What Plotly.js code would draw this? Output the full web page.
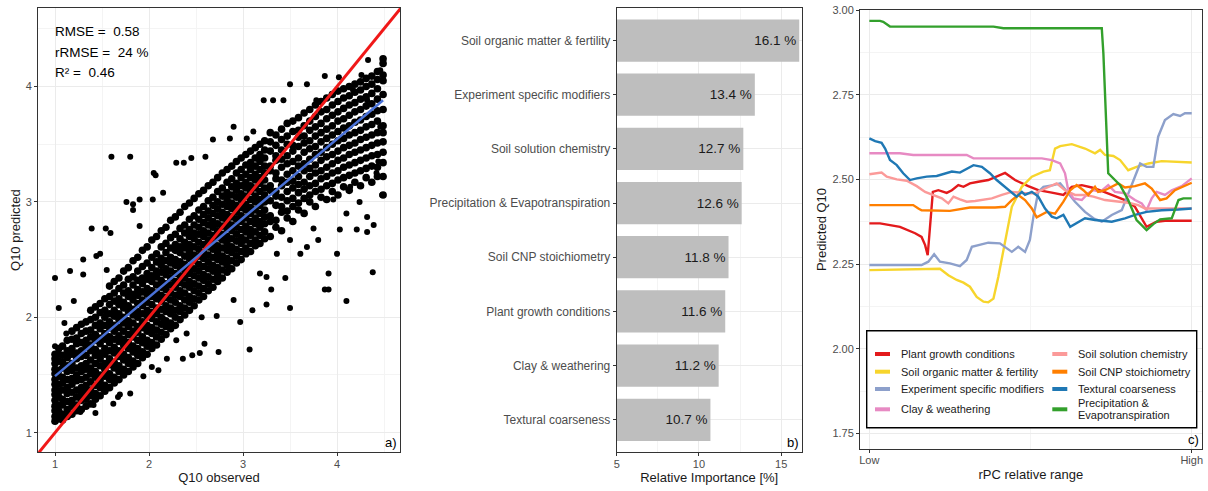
<!DOCTYPE html>
<html><head><meta charset="utf-8">
<script src="https://cdn.plot.ly/plotly-3.0.1.min.js"></script>
<style>html,body{margin:0;padding:0;background:#fff;}#chart{width:1208px;height:491px;}</style>
</head><body><div id="chart"></div>
<script>
// ---------- Panel a: observed vs predicted Q10 ----------
const coreColX = [1.00,1.04,1.08,1.13,1.18,1.23,1.28,1.33,1.38,1.43,1.48,1.53,1.58,1.63,1.68,1.73,1.78,1.83,1.88,1.93,1.98,2.03,2.08,2.13,2.18,2.23,2.28,2.33,2.38,2.43,2.48,2.53,2.58,2.63,2.68,2.73,2.78,2.83,2.88,2.93,2.98,3.03,3.08,3.13,3.18,3.23,3.29,3.35,3.41,3.47,3.53,3.59,3.65,3.71,3.77,3.83,3.89,3.95,4.01,4.07,4.13,4.19,4.25,4.31,4.37,4.43,4.49];
const coreColY = [
[1.10,1.14,1.19,1.23,1.28,1.33,1.37,1.42,1.46,1.51,1.55,1.60,1.64,1.68],
[1.12,1.19,1.24,1.31,1.36,1.42,1.49,1.54,1.62,1.68,1.73],
[1.11,1.16,1.24,1.29,1.37,1.43,1.48,1.56,1.61,1.67,1.75],
[1.14,1.20,1.27,1.34,1.39,1.46,1.53,1.58,1.65,1.71,1.80],
[1.16,1.23,1.28,1.35,1.42,1.47,1.54,1.60,1.68,1.73,1.81,1.88],
[1.19,1.24,1.31,1.37,1.45,1.50,1.56,1.64,1.69,1.77,1.82,1.91],
[1.20,1.28,1.33,1.39,1.46,1.53,1.58,1.66,1.71,1.78,1.86,1.94],
[1.23,1.29,1.36,1.41,1.48,1.55,1.60,1.67,1.75,1.80,1.88,1.96],
[1.25,1.32,1.37,1.44,1.51,1.56,1.63,1.71,1.76,1.83,1.89,1.98,2.06],
[1.29,1.34,1.41,1.48,1.53,1.60,1.67,1.72,1.80,1.85,1.93,2.00,2.09],
[1.32,1.39,1.45,1.50,1.58,1.64,1.69,1.77,1.82,1.90,1.95,2.04,2.12],
[1.36,1.41,1.49,1.55,1.60,1.68,1.73,1.81,1.86,1.93,2.00,2.06,2.16],
[1.39,1.46,1.51,1.59,1.64,1.71,1.78,1.83,1.91,1.96,2.03,2.11,2.18,2.27],
[1.43,1.48,1.56,1.61,1.69,1.74,1.81,1.88,1.93,2.01,2.06,2.14,2.21,2.31],
[1.46,1.53,1.58,1.66,1.71,1.79,1.84,1.91,1.98,2.03,2.11,2.16,2.25,2.34],
[1.50,1.55,1.63,1.68,1.76,1.81,1.88,1.95,2.00,2.08,2.13,2.21,2.28,2.40],
[1.53,1.60,1.65,1.73,1.78,1.85,1.92,1.97,2.05,2.10,2.18,2.23,2.33,2.43],
[1.57,1.62,1.70,1.75,1.83,1.88,1.95,2.02,2.07,2.15,2.20,2.28,2.35,2.49],
[1.60,1.67,1.73,1.80,1.87,1.92,2.00,2.05,2.12,2.19,2.24,2.32,2.40,2.52],
[1.65,1.70,1.78,1.83,1.91,1.96,2.03,2.10,2.15,2.22,2.29,2.34,2.44,2.58],
[1.68,1.75,1.80,1.88,1.93,2.01,2.06,2.13,2.20,2.25,2.33,2.38,2.47,2.61],
[1.73,1.78,1.86,1.91,1.99,2.04,2.11,2.18,2.23,2.31,2.36,2.43,2.52,2.67],
[1.76,1.83,1.89,1.96,2.03,2.08,2.16,2.21,2.28,2.35,2.40,2.48,2.55,2.70],
[1.81,1.87,1.94,2.00,2.07,2.14,2.19,2.26,2.32,2.39,2.45,2.51,2.61,2.75],
[1.85,1.92,1.97,2.05,2.10,2.17,2.24,2.29,2.37,2.42,2.49,2.56,2.64,2.78],
[1.90,1.95,2.03,2.08,2.15,2.21,2.28,2.34,2.40,2.47,2.52,2.60,2.69,2.84],
[1.93,2.00,2.06,2.13,2.19,2.26,2.31,2.38,2.45,2.50,2.58,2.63,2.72,2.87],
[1.98,2.05,2.10,2.18,2.23,2.30,2.36,2.43,2.48,2.56,2.61,2.68,2.77,2.91],
[2.02,2.08,2.15,2.21,2.28,2.34,2.41,2.46,2.53,2.60,2.65,2.73,2.80,2.96],
[2.06,2.13,2.18,2.26,2.31,2.38,2.44,2.51,2.57,2.63,2.70,2.76,2.85,2.99],
[2.10,2.16,2.23,2.29,2.36,2.42,2.49,2.54,2.61,2.68,2.73,2.80,2.88,3.03],
[2.15,2.21,2.27,2.34,2.40,2.46,2.53,2.59,2.65,2.72,2.78,2.85,2.93,3.07],
[2.18,2.25,2.32,2.37,2.44,2.51,2.56,2.63,2.70,2.75,2.82,2.89,2.96,3.10],
[2.23,2.29,2.35,2.42,2.48,2.54,2.61,2.67,2.73,2.80,2.86,2.92,3.01,3.14],
[2.26,2.33,2.40,2.45,2.52,2.59,2.64,2.71,2.78,2.83,2.90,2.97,3.04,3.17],
[2.31,2.37,2.43,2.50,2.56,2.62,2.69,2.75,2.81,2.88,2.94,3.00,3.09,3.21],
[2.34,2.41,2.48,2.53,2.60,2.67,2.72,2.79,2.86,2.91,2.98,3.05,3.12,3.25],
[2.39,2.45,2.51,2.58,2.64,2.70,2.77,2.83,2.89,2.96,3.02,3.08,3.17,3.28],
[2.42,2.49,2.56,2.61,2.68,2.75,2.80,2.87,2.94,2.99,3.06,3.13,3.20,3.31],
[2.47,2.53,2.59,2.66,2.72,2.78,2.85,2.91,2.97,3.04,3.10,3.16,3.25,3.35],
[2.50,2.57,2.64,2.69,2.76,2.83,2.88,2.95,3.02,3.07,3.14,3.21,3.28,3.38],
[2.55,2.60,2.67,2.74,2.79,2.86,2.93,2.98,3.05,3.12,3.17,3.24,3.32,3.41],
[2.57,2.64,2.71,2.76,2.83,2.90,2.95,3.02,3.09,3.14,3.21,3.28,3.34,3.44],
[2.62,2.67,2.74,2.81,2.86,2.93,3.00,3.05,3.12,3.19,3.24,3.31,3.38,3.47],
[2.64,2.71,2.78,2.83,2.90,2.97,3.02,3.09,3.16,3.21,3.28,3.35,3.41,3.50],
[2.68,2.74,2.81,2.87,2.93,3.00,3.06,3.12,3.19,3.25,3.31,3.38,3.45,3.53],
[2.70,2.83,2.88,3.01,3.10,3.14,3.27,3.31,3.44,3.52,3.60],
[2.78,2.84,2.97,3.05,3.09,3.20,3.25,3.36,3.40,3.49,3.58],
[2.75,2.91,2.96,3.04,3.14,3.19,3.30,3.37,3.45,3.54,3.63],
[2.86,2.92,3.01,3.09,3.17,3.24,3.33,3.40,3.50,3.57,3.68],
[2.83,2.96,3.03,3.12,3.18,3.27,3.35,3.44,3.49,3.61,3.70],
[2.93,2.99,3.08,3.15,3.22,3.31,3.38,3.48,3.56,3.62,3.73],
[2.90,3.03,3.11,3.17,3.27,3.33,3.43,3.51,3.57,3.66,3.77],
[3.00,3.06,3.14,3.22,3.29,3.37,3.46,3.53,3.62,3.70,3.80],
[2.96,3.09,3.16,3.25,3.32,3.41,3.48,3.57,3.65,3.74,3.84],
[3.04,3.11,3.20,3.27,3.36,3.43,3.52,3.60,3.68,3.78,3.87],
[3.02,3.14,3.22,3.30,3.39,3.47,3.55,3.63,3.72,3.80,3.90],
[3.09,3.16,3.25,3.33,3.41,3.50,3.58,3.66,3.75,3.84,3.93],
[3.06,3.19,3.27,3.36,3.44,3.53,3.61,3.70,3.78,3.87,3.96],
[3.13,3.21,3.30,3.38,3.47,3.55,3.64,3.72,3.81,3.90,3.98],
[3.10,3.23,3.32,3.41,3.49,3.58,3.66,3.75,3.84,3.92,4.00],
[3.17,3.25,3.34,3.43,3.51,3.60,3.69,3.78,3.86,3.95,4.02],
[3.14,3.27,3.36,3.45,3.54,3.62,3.71,3.80,3.89,3.97,4.04],
[3.21,3.29,3.38,3.47,3.56,3.65,3.74,3.83,3.91,4.00,4.07],
[3.17,3.31,3.40,3.49,3.58,3.67,3.76,3.85,3.94,4.02,4.09],
[3.22,3.30,3.41,3.51,3.60,3.70,3.79,3.89,3.98,4.06,4.13],
[3.06,3.22,3.34,3.43,3.52,3.60,3.66,3.80,3.93,4.05,4.10,4.20,4.24]
];
const sparseX = [1.00,1.04,1.10,1.16,1.20,1.30,1.30,1.39,1.44,1.43,1.54,1.59,1.60,1.80,1.76,1.83,1.90,2.04,2.07,2.15,2.29,2.45,2.60,2.90,2.86,1.69,1.67,2.10,2.19,2.36,2.46,2.59,2.74,3.07,2.97,3.10,3.25,3.50,3.22,3.32,3.50,3.68,3.87,4.02,4.33,4.10,3.91,3.87,4.00,4.38,4.48,4.24,4.10,4.21,4.32,4.32,4.39,4.03,3.75,3.61,3.68,3.80,3.91,3.45,3.30,3.25,3.36,3.50,3.18,2.90,2.72,2.56,2.40,2.29,2.15,3.96,4.14,4.42,4.44,4.46,4.32,4.17,4.26,4.46,3.78,3.43,3.04,3.11,2.68,2.37,2.05,1.83,1.90,1.48,1.55,1.12,1.00,1.02,1.27,1.41,1.62,1.80,1.94,2.03,2.54];
const sparseY = [2.34,2.08,1.95,2.40,2.14,2.50,2.37,2.77,2.53,1.17,2.77,2.73,3.39,3.39,3.00,2.98,3.02,3.02,3.23,3.08,3.34,3.38,3.39,3.65,3.55,1.33,1.31,1.54,1.64,1.64,1.67,1.77,1.70,1.72,1.96,2.06,2.11,2.08,3.88,3.88,4.02,4.02,4.09,4.08,4.23,2.14,2.24,2.24,2.55,2.39,3.06,3.00,2.90,2.76,2.74,2.87,2.80,2.76,2.77,2.55,2.61,2.67,2.38,2.34,2.24,2.35,2.55,2.67,2.38,2.15,2.01,2.00,1.86,1.80,1.99,3.02,3.13,3.25,3.35,3.65,3.88,3.97,4.10,4.14,3.88,3.88,3.55,3.61,3.54,3.34,3.25,2.93,2.79,2.55,2.41,1.86,1.75,1.14,1.18,1.24,1.25,1.34,1.49,1.57,1.69];
const fitX = [1.00, 4.49];
const fitY = [1.49, 3.88];
const identityXY = [0, 5];
const statLabels = ['RMSE = \u00a00.58', 'rRMSE = \u00a024 %', 'R\u00b2 = \u00a00.46'];

// ---------- Panel b: relative importance ----------
const groups = ['Soil organic matter & fertility','Experiment specific modifiers','Soil solution chemistry','Precipitation & Evapotranspiration','Soil CNP stoichiometry','Plant growth conditions','Clay & weathering','Textural coarseness'];
const importance = [16.1, 13.4, 12.7, 12.6, 11.8, 11.6, 11.2, 10.7];

// ---------- Panel c: partial dependence ----------
const seriesNames = ['Plant growth conditions','Soil organic matter & fertility','Experiment specific modifiers','Clay & weathering','Soil solution chemistry','Soil CNP stoichiometry','Textural coarseness','Precipitation &<br>Evapotranspiration'];
const seriesColors = ['#E31A1C','#F7D52C','#8DA0CB','#E78AC3','#FB9A99','#FF7F00','#1F78B4','#33A02C'];
const plantX = [0,0.033,0.095,0.142,0.162,0.173,0.181,0.197,0.214,0.240,0.256,0.276,0.292,0.312,0.338,0.369,0.421,0.452,0.493,0.524,0.566,0.602,0.628,0.659,0.690,0.710,0.752,0.793,0.824,0.860,0.891,0.917,1.0];
const plantY = [2.370,2.370,2.360,2.341,2.330,2.306,2.276,2.463,2.468,2.460,2.468,2.483,2.478,2.488,2.493,2.498,2.519,2.498,2.480,2.468,2.461,2.454,2.478,2.483,2.476,2.470,2.454,2.439,2.419,2.360,2.375,2.378,2.378];
const somX = [0,0.219,0.245,0.271,0.292,0.312,0.333,0.354,0.369,0.385,0.400,0.421,0.442,0.473,0.504,0.540,0.560,0.576,0.592,0.628,0.669,0.700,0.716,0.731,0.757,0.778,0.803,0.829,0.866,0.907,1.0];
const somY = [2.232,2.236,2.217,2.203,2.195,2.183,2.153,2.139,2.137,2.148,2.212,2.321,2.419,2.478,2.508,2.523,2.527,2.591,2.598,2.604,2.591,2.577,2.587,2.572,2.569,2.557,2.527,2.537,2.547,2.554,2.550];
const expX = [0,0.162,0.183,0.201,0.219,0.250,0.281,0.302,0.318,0.338,0.369,0.405,0.442,0.462,0.483,0.498,0.509,0.524,0.540,0.571,0.592,0.617,0.638,0.669,0.695,0.721,0.752,0.783,0.803,0.840,0.860,0.881,0.896,0.917,0.943,0.964,0.979,1.0];
const expY = [2.247,2.247,2.257,2.279,2.257,2.252,2.244,2.262,2.301,2.306,2.313,2.311,2.286,2.301,2.286,2.321,2.390,2.463,2.478,2.483,2.488,2.459,2.434,2.404,2.385,2.375,2.395,2.409,2.459,2.547,2.537,2.537,2.626,2.675,2.693,2.687,2.695,2.695];
const clayX = [0,0.095,0.136,0.302,0.323,0.535,0.566,0.592,0.607,0.617,0.633,0.659,0.679,0.695,0.716,0.741,0.762,0.793,0.824,0.845,0.860,0.876,0.891,0.917,0.938,0.969,1.0];
const clayY = [2.577,2.577,2.572,2.572,2.562,2.562,2.557,2.547,2.518,2.468,2.444,2.439,2.459,2.468,2.463,2.483,2.463,2.459,2.439,2.429,2.409,2.444,2.463,2.454,2.468,2.480,2.503];
const solX = [0,0.023,0.038,0.054,0.085,0.116,0.147,0.173,0.199,0.225,0.245,0.261,0.281,0.302,0.328,0.380,0.411,0.442,0.483,0.514,0.545,0.581,0.607,0.638,0.669,0.695,0.731,0.772,0.803,0.834,0.855,0.896,1.0];
const solY = [2.515,2.518,2.520,2.508,2.500,2.496,2.480,2.463,2.454,2.444,2.429,2.449,2.441,2.434,2.436,2.444,2.454,2.463,2.459,2.459,2.473,2.488,2.468,2.454,2.454,2.449,2.439,2.434,2.431,2.424,2.414,2.414,2.414];
const cnpX = [0,0.136,0.152,0.162,0.250,0.281,0.312,0.390,0.421,0.442,0.462,0.483,0.504,0.519,0.550,0.576,0.602,0.623,0.643,0.664,0.679,0.700,0.710,0.731,0.752,0.772,0.793,0.824,0.855,0.876,0.902,0.922,0.948,0.979,1.0];
const cnpY = [2.424,2.424,2.414,2.409,2.407,2.411,2.417,2.417,2.419,2.439,2.454,2.439,2.414,2.388,2.404,2.399,2.434,2.468,2.483,2.468,2.454,2.478,2.463,2.468,2.478,2.488,2.476,2.480,2.488,2.473,2.439,2.444,2.468,2.480,2.490];
const texX = [0,0.018,0.038,0.049,0.064,0.085,0.105,0.126,0.147,0.178,0.209,0.235,0.256,0.281,0.302,0.323,0.349,0.374,0.395,0.421,0.442,0.457,0.473,0.483,0.504,0.524,0.545,0.566,0.581,0.602,0.623,0.643,0.669,0.700,0.752,0.793,0.824,0.860,0.907,0.959,1.0];
const texY = [2.621,2.613,2.608,2.591,2.557,2.542,2.518,2.498,2.503,2.508,2.510,2.518,2.523,2.520,2.532,2.542,2.537,2.518,2.498,2.478,2.459,2.449,2.463,2.454,2.463,2.449,2.414,2.390,2.385,2.395,2.360,2.370,2.385,2.380,2.375,2.385,2.395,2.404,2.409,2.411,2.414];
const precX = [0,0.033,0.043,0.064,0.385,0.416,0.721,0.726,0.741,0.778,0.803,0.829,0.860,0.881,0.902,0.938,0.959,0.974,1.0];
const precY = [2.968,2.968,2.965,2.951,2.951,2.946,2.946,2.872,2.518,2.483,2.439,2.380,2.350,2.368,2.382,2.385,2.439,2.444,2.444];
const seriesX = [plantX, somX, expX, clayX, solX, cnpX, texX, precX];
const seriesY = [plantY, somY, expY, clayY, solY, cnpY, texY, precY];

// ---------- build ----------
const W = 1208, H = 491;
const FONT = 'Liberation Sans, Arial, sans-serif';
const px = v => v / W, py = v => 1 - v / H;

const coreX = [], coreY = [];
coreColX.forEach((x, i) => coreColY[i].forEach(y => { coreX.push(x); coreY.push(y); }));

const traces = [
  {type:'scatter', mode:'markers', x:coreX, y:coreY, xaxis:'x', yaxis:'y',
   marker:{color:'#000000', size:7.6}, showlegend:false, hoverinfo:'skip'},
  {type:'scatter', mode:'markers', x:sparseX, y:sparseY, xaxis:'x', yaxis:'y',
   marker:{color:'#000000', size:6}, showlegend:false, hoverinfo:'skip'},
  {type:'scatter', mode:'lines', x:identityXY, y:identityXY, xaxis:'x', yaxis:'y',
   line:{color:'#F01818', width:3}, showlegend:false},
  {type:'scatter', mode:'lines', x:fitX, y:fitY, xaxis:'x', yaxis:'y',
   line:{color:'#4A72D8', width:2.5}, showlegend:false},
  {type:'bar', orientation:'h', x:importance, y:groups, xaxis:'x2', yaxis:'y2',
   width:0.78, marker:{color:'#BEBEBE', line:{width:0}},
   text:importance.map(v => v.toFixed(1) + ' %'), textposition:'inside', insidetextanchor:'end',
   textangle:0, textfont:{family:FONT, size:13.5, color:'#1a1a1a'}, showlegend:false}
];
seriesNames.forEach((n, i) => traces.push({
  type:'scatter', mode:'lines', x:seriesX[i], y:seriesY[i], xaxis:'x3', yaxis:'y3',
  name:n, line:{color:seriesColors[i], width:2.4}, showlegend:false
}));

const axisBase = {
  showline:true, mirror:true, linecolor:'#333333', linewidth:1,
  ticks:'outside', ticklen:3, tickcolor:'#333333', tickwidth:1,
  gridcolor:'#EBEBEB', gridwidth:1, zeroline:false,
  tickfont:{family:FONT, size:11, color:'#4D4D4D'}
};
const titleFont = {family:FONT, size:13, color:'#1a1a1a'};

const shapes = [];
const annotations = [];
statLabels.forEach((t, i) => annotations.push({
  xref:'paper', yref:'paper', x:px(53), y:py(31.5 + i * 20.6), xanchor:'left', yanchor:'middle',
  text:t, showarrow:false, font:{family:FONT, size:13.5, color:'#000000'}
}));
[['a)', 399, 452], ['b)', 800.5, 452], ['c)', 1200.5, 449]].forEach(a => annotations.push({
  xref:'paper', yref:'paper', x:px(a[1]), y:py(a[2]), xanchor:'right', yanchor:'bottom',
  text:a[0], showarrow:false, font:{family:FONT, size:13, color:'#000000'}
}));
shapes.push({type:'rect', xref:'paper', yref:'paper', x0:px(866.7), x1:px(1196.7), y0:py(427.7), y1:py(330.7),
  line:{color:'#000000', width:1.4}, fillcolor:'#FFFFFF', layer:'above'});
const rowY = [354, 371.7, 389, 409.3];
seriesNames.forEach((n, i) => {
  const col = i < 4 ? 0 : 1, row = i % 4;
  const sx = col === 0 ? 875 : 1052.3;
  const tx = col === 0 ? 898.7 : 1075.7;
  const yy = rowY[row];
  shapes.push({type:'line', xref:'paper', yref:'paper', x0:px(sx), x1:px(sx + 15), y0:py(yy), y1:py(yy),
    line:{color:seriesColors[i], width:4}, layer:'above'});
  const lines = n.split('<br>');
  lines.forEach((ln, k) => annotations.push({
    xref:'paper', yref:'paper', x:px(tx), y:py(yy + (k - (lines.length - 1) / 2) * 11.8),
    xanchor:'left', yanchor:'middle', text:ln, showarrow:false,
    font:{family:FONT, size:11, color:'#1a1a1a'}
  }));
});

const layout = {
  width:W, height:H, margin:{l:0, r:0, t:0, b:0},
  paper_bgcolor:'#FFFFFF', plot_bgcolor:'#FFFFFF', showlegend:false,
  font:{family:FONT},
  xaxis:Object.assign({}, axisBase, {domain:[px(38), px(400)], range:[0.819, 4.670], tickvals:[1,2,3,4],
    ticklabelstandoff:-2,
    minor:{tickvals:[1.5,2.5,3.5,4.5], showgrid:true, gridcolor:'#F4F4F4', ticks:''},
    title:{text:'Q10 observed', font:titleFont, standoff:4}, anchor:'y'}),
  yaxis:Object.assign({}, axisBase, {domain:[py(452.3), py(8)], range:[0.830, 4.680], tickvals:[1,2,3,4],
    minor:{tickvals:[1.5,2.5,3.5,4.5], showgrid:true, gridcolor:'#F4F4F4', ticks:''},
    title:{text:'Q10 predicted', font:titleFont, standoff:2}, anchor:'x'}),
  xaxis2:Object.assign({}, axisBase, {domain:[px(616.7), px(801.7)], range:[5, 16.25], tickvals:[5,10,15],
    ticklabelstandoff:-2,
    minor:{tickvals:[7.5,12.5], showgrid:true, gridcolor:'#F4F4F4', ticks:''},
    title:{text:'Relative Importance [%]', font:titleFont, standoff:4}, anchor:'y2'}),
  yaxis2:Object.assign({}, axisBase, {domain:[py(452.3), py(8)], type:'category',
    categoryorder:'array', categoryarray:groups, range:[7.6, -0.6],
    tickfont:{family:FONT, size:12, color:'#4D4D4D'}, anchor:'x2'}),
  xaxis3:Object.assign({}, axisBase, {domain:[px(860), px(1201.7)], range:[-0.029, 1.031],
    tickvals:[0,1], ticktext:['Low','High'], ticklabelstandoff:-2,
    minor:{tickvals:[0.5], showgrid:true, gridcolor:'#F4F4F4', ticks:''},
    title:{text:'rPC relative range', font:titleFont, standoff:4}, anchor:'y3'}),
  yaxis3:Object.assign({}, axisBase, {domain:[py(449), py(10)], range:[1.704, 3.0],
    tickvals:[1.75,2,2.25,2.5,2.75,3], tickformat:'.2f',
    minor:{tickvals:[1.875,2.125,2.375,2.625,2.875], showgrid:true, gridcolor:'#F4F4F4', ticks:''},
    title:{text:'Predicted Q10', font:titleFont, standoff:2}, anchor:'x3'}),
  shapes:shapes, annotations:annotations
};

Plotly.newPlot('chart', traces, layout, {staticPlot:true, displayModeBar:false});
</script>
</body></html>
